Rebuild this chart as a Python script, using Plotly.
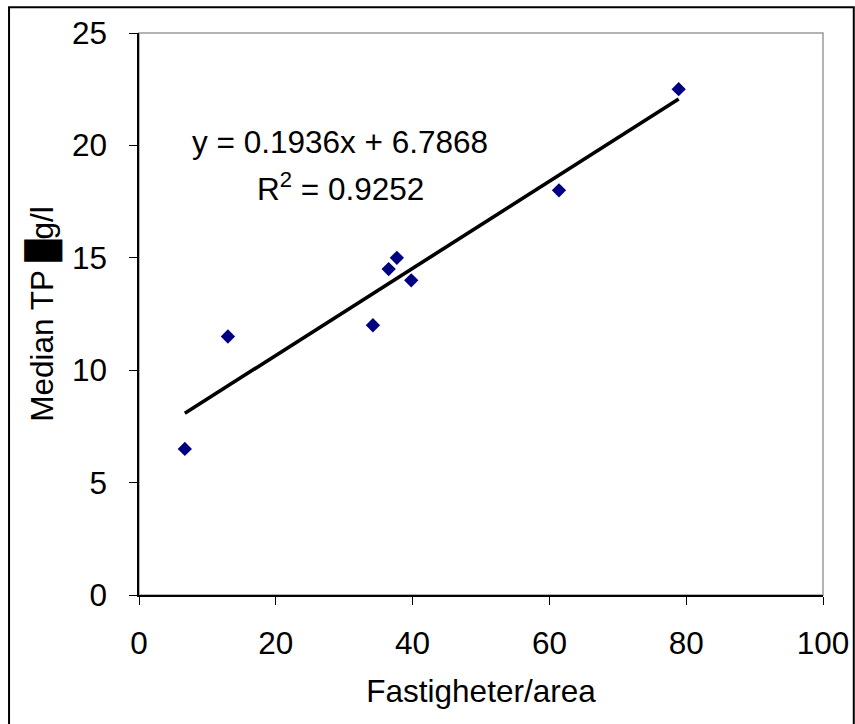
import plotly.graph_objects as go

# Data
fastigheter = [6.7, 13.0, 34.2, 36.5, 37.7, 39.8, 61.4, 78.9]
median_tp = [6.5, 11.5, 12.0, 14.5, 15.0, 14.0, 18.0, 22.5]
slope = 0.1936
intercept = 6.7868
r2 = 0.9252
x_ticks = [0, 20, 40, 60, 80, 100]
y_ticks = [0, 5, 10, 15, 20, 25]

FONT = "Liberation Sans, Arial, DejaVu Sans"
FS = 31.5

x_line = [min(fastigheter), max(fastigheter)]
y_line = [slope * v + intercept for v in x_line]

fig = go.Figure()
fig.add_trace(go.Scatter(x=x_line, y=y_line, mode="lines",
                         line=dict(color="black", width=3.6), showlegend=False))
fig.add_trace(go.Scatter(x=fastigheter, y=median_tp, mode="markers",
                         marker=dict(symbol="diamond", size=11, color="#000080"),
                         showlegend=False))

fig.update_layout(
    width=855, height=724,
    margin=dict(l=139, r=32, t=33, b=129, autoexpand=False),
    paper_bgcolor="white", plot_bgcolor="white",
    font=dict(family=FONT, size=FS, color="black"),
    xaxis=dict(range=[0, 100], tickvals=x_ticks, ticks="outside", ticklen=8,
               tickcolor="black", showline=True, linecolor="black", linewidth=1.5,
               showgrid=False, zeroline=False, mirror=False, automargin=False,
               ticklabelstandoff=11,
               title=dict(text="Fastigheter/area", standoff=20,
                          font=dict(size=FS))),
    yaxis=dict(range=[0, 25], tickvals=y_ticks, ticks="outside", ticklen=8,
               tickcolor="black", showline=True, linecolor="black", linewidth=1.5,
               showgrid=False, zeroline=False, automargin=False,
               ticklabelstandoff=16,
               title=dict(text="Median TP █g/l", standoff=9,
                          font=dict(size=FS))),
)

# plot-area border (top/right gray)
fig.add_shape(type="rect", xref="paper", yref="paper", x0=0, y0=0, x1=1, y1=1,
              line=dict(color="#9a9a9a", width=1.5), layer="below")
# outer chart border
fig.add_shape(type="rect", xref="paper", yref="paper",
              x0=-0.19, y0=-0.25, x1=1.045, y1=1.046,
              line=dict(color="black", width=2))

fig.add_annotation(x=(340 - 139) / 684, y=(595 - 142) / 562, xref="paper", yref="paper",
                   text=f"y = {slope}x + {intercept}", showarrow=False,
                   font=dict(size=FS), xanchor="center", yanchor="middle")
fig.add_annotation(x=(340 - 139) / 684, y=(595 - 187) / 562, xref="paper", yref="paper",
                   text=f"R<sup>2</sup> = {r2}", showarrow=False,
                   font=dict(size=FS), xanchor="center", yanchor="middle")

fig.write_html("out.html", config={"displayModeBar": False},
               post_script="document.body.style.margin='0';document.body.style.overflow='hidden';")
